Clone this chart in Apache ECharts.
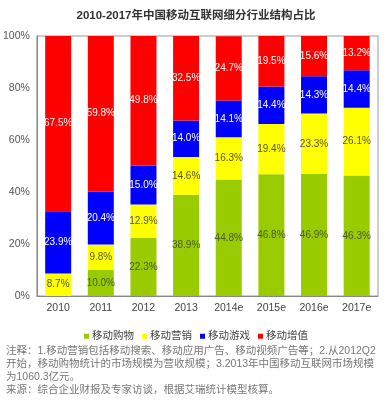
<!DOCTYPE html>
<html><head><meta charset="utf-8">
<script src="https://cdn.jsdelivr.net/npm/echarts@6/dist/echarts.min.js"></script>
<style>html,body{margin:0;padding:0;background:#fff}#c{width:392px;height:401px}</style>
</head><body><div id="c"></div>
<script>
const categories = ['2010','2011','2012','2013','2014e','2015e','2016e','2017e'];
const shopping = [0, 10.0, 22.3, 38.9, 44.8, 46.8, 46.9, 46.3];
const marketing = [8.7, 9.8, 12.9, 14.6, 16.3, 19.4, 23.3, 26.1];
const games = [23.9, 20.4, 15.0, 14.0, 14.1, 14.4, 14.3, 14.4];
const valueAdded = [67.5, 59.8, 49.8, 32.5, 24.7, 19.5, 15.6, 13.2];
const seriesNames = ['移动购物','移动营销','移动游戏','移动增值'];
const yTicks = [0, 20, 40, 60, 80, 100];
const notes = [
  '注释：1.移动营销包括移动搜索、移动应用广告、移动视频广告等；2.从2012Q2',
  '开始，移动购物统计的市场规模为营收规模；3.2013年中国移动互联网市场规模',
  '为1060.3亿元。',
  '来源：综合企业财报及专家访谈，根据艾瑞统计模型核算。'
];

const font = '"Liberation Sans", "Noto Sans CJK SC", sans-serif';
const colors = ['#99cc00','#ffff00','#0000ff','#ff0000'];
const labelColors = ['#4d5a2a','#555533','#ffffff','#ffffff'];
const data = [shopping, marketing, games, valueAdded];

const chart = echarts.init(document.getElementById('c'));
chart.setOption({
  animation: false,
  title: {
    text: '2010-2017年中国移动互联网细分行业结构占比',
    left: 'center', top: 5,
    textStyle: {fontSize: 11.5, fontWeight: 'bold', color: '#333', fontFamily: font}
  },
  legend: {
    data: seriesNames, top: 326, left: 'center',
    itemWidth: 5, itemHeight: 5, itemGap: 8, icon: 'rect',
    textStyle: {fontSize: 10.5, color: '#444', fontFamily: font, padding: [0, 0, 0, -2]}
  },
  grid: {left: 36, right: 14, top: 36, bottom: 105, show: true, borderColor: '#999', borderWidth: 1},
  xAxis: {
    type: 'category', data: categories,
    axisLine: {lineStyle: {color: '#888'}},
    axisTick: {show: false},
    axisLabel: {interval: 0, fontSize: 10.5, color: '#444', fontFamily: font, margin: 7}
  },
  yAxis: {
    type: 'value', min: yTicks[0], max: yTicks[yTicks.length-1], interval: 20,
    axisLine: {show: true, lineStyle: {color: '#888'}},
    axisTick: {show: false},
    splitLine: {show: false},
    axisLabel: {fontSize: 10.5, color: '#555', fontFamily: font, formatter: '{value}%', margin: 7}
  },
  series: seriesNames.map((n, i) => ({
    name: n, type: 'bar', stack: 'all', data: data[i], barWidth: 26,
    itemStyle: {color: colors[i]},
    label: {
      show: true, position: 'inside', fontSize: 10, fontFamily: font, color: labelColors[i],
      formatter: p => p.value ? p.value.toFixed(1) + '%' : ''
    }
  })),
  graphic: notes.map((t, i) => ({
    type: 'text', left: 6, top: 346 + i * 13,
    style: {text: t, fontSize: 10.5, fill: '#777', fontFamily: font}
  }))
});
</script></body></html>
